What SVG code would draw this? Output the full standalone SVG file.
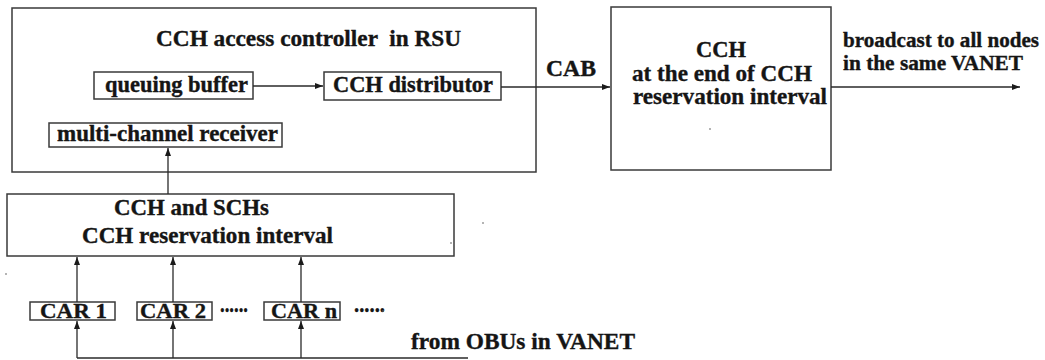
<svg xmlns="http://www.w3.org/2000/svg" width="1045" height="360" viewBox="0 0 1045 360">
  <style>
    .box { fill: none; stroke: #3a3a3a; stroke-width: 1.5; }
    .wire { fill: none; stroke: #2a2a2a; stroke-width: 1.3; }
    .lbl { font-family: "Liberation Serif", "Times New Roman", serif; font-weight: bold; font-size: 22.5px; fill: #151515; stroke: #151515; stroke-width: 0.35; white-space: pre; }
    .car { font-size: 22px; }
    .note { font-size: 20px; }
    .speck { fill: #555; }
  </style>
  <defs>
    <marker id="arrow" viewBox="0 0 8 6" refX="8" refY="3" markerWidth="8" markerHeight="6" markerUnits="userSpaceOnUse" orient="auto">
      <path d="M0,0 L8,3 L0,6 Z" fill="#1a1a1a"/>
    </marker>
  </defs>

  <rect width="1045" height="360" fill="#ffffff"/>

  <!-- RSU access controller with its inner blocks -->
  <g id="rsu-controller">
    <rect class="box" x="12" y="8" width="524" height="164"/>
    <text class="lbl" x="156" y="46" textLength="305" lengthAdjust="spacingAndGlyphs">CCH access controller  in RSU</text>
  </g>
  <g id="queuing-buffer">
    <rect class="box" x="94" y="72" width="159" height="27"/>
    <text class="lbl" x="105" y="92" textLength="143" lengthAdjust="spacingAndGlyphs">queuing buffer</text>
  </g>
  <g id="cch-distributor">
    <rect class="box" x="324" y="72" width="177" height="28"/>
    <text class="lbl" x="333" y="92" textLength="160" lengthAdjust="spacingAndGlyphs">CCH distributor</text>
  </g>
  <g id="multichannel-receiver">
    <rect class="box" x="49" y="123" width="233" height="24"/>
    <text class="lbl" x="57" y="141" textLength="221" lengthAdjust="spacingAndGlyphs">multi-channel receiver</text>
  </g>

  <!-- CCH broadcast block -->
  <g id="cch-block">
    <rect class="box" x="611" y="7" width="220" height="163"/>
    <text class="lbl" x="721" y="57" text-anchor="middle">CCH</text>
    <text class="lbl" x="632" y="81" textLength="180" lengthAdjust="spacingAndGlyphs">at the end of CCH</text>
    <text class="lbl" x="633" y="104" textLength="194" lengthAdjust="spacingAndGlyphs">reservation interval</text>
    <circle class="speck" cx="710" cy="129" r="0.8"/>
  </g>

  <!-- channel reservation block -->
  <g id="cch-sch-block">
    <rect class="box" x="7" y="194" width="447" height="62"/>
    <text class="lbl" x="114" y="215" textLength="155" lengthAdjust="spacingAndGlyphs">CCH and SCHs</text>
    <text class="lbl" x="82" y="243" textLength="251" lengthAdjust="spacingAndGlyphs">CCH reservation interval</text>
    <circle class="speck" cx="451" cy="243" r="0.8"/>
  </g>

  <!-- vehicles -->
  <g id="car-1">
    <rect class="box" x="30" y="302" width="85" height="18"/>
    <text class="lbl car" x="40" y="318" textLength="67" lengthAdjust="spacingAndGlyphs">CAR 1</text>
  </g>
  <g id="car-2">
    <rect class="box" x="137" y="302" width="75" height="18"/>
    <text class="lbl car" x="140" y="318" textLength="66" lengthAdjust="spacingAndGlyphs">CAR 2</text>
  </g>
  <g id="car-n">
    <rect class="box" x="264" y="302" width="76" height="18"/>
    <text class="lbl car" x="271" y="318" textLength="66" lengthAdjust="spacingAndGlyphs">CAR n</text>
  </g>
  <g id="ellipses">
    <text class="lbl" x="220" y="312" textLength="28" lengthAdjust="spacingAndGlyphs">......</text>
    <text class="lbl" x="354" y="312" textLength="31" lengthAdjust="spacingAndGlyphs">......</text>
  </g>

  <!-- free labels -->
  <g id="labels">
    <text class="lbl" x="546" y="76" textLength="50" lengthAdjust="spacingAndGlyphs">CAB</text>
    <text class="lbl note" x="843" y="46.5" textLength="196" lengthAdjust="spacingAndGlyphs">broadcast to all nodes</text>
    <text class="lbl note" x="843" y="69.5" textLength="180" lengthAdjust="spacingAndGlyphs">in the same VANET</text>
    <text class="lbl" x="411" y="349" textLength="224" lengthAdjust="spacingAndGlyphs">from OBUs in VANET</text>
  </g>

  <!-- connectors -->
  <g id="connectors">
    <line class="wire" x1="253" y1="86" x2="323" y2="86" marker-end="url(#arrow)"/>
    <line class="wire" x1="501" y1="87" x2="610" y2="87" marker-end="url(#arrow)"/>
    <line class="wire" x1="831" y1="87" x2="1020" y2="87" marker-end="url(#arrow)"/>
    <line class="wire" x1="168" y1="194" x2="168" y2="148" marker-end="url(#arrow)"/>
    <line class="wire" x1="77" y1="302" x2="77" y2="257" marker-end="url(#arrow)"/>
    <line class="wire" x1="173" y1="302" x2="173" y2="257" marker-end="url(#arrow)"/>
    <line class="wire" x1="301" y1="302" x2="301" y2="257" marker-end="url(#arrow)"/>
    <line class="wire" x1="77" y1="358" x2="468" y2="358"/>
    <line class="wire" x1="77" y1="358" x2="77" y2="321" marker-end="url(#arrow)"/>
    <line class="wire" x1="173" y1="358" x2="173" y2="321" marker-end="url(#arrow)"/>
    <line class="wire" x1="301" y1="358" x2="301" y2="321" marker-end="url(#arrow)"/>
  </g>

  <!-- stray print specks -->
  <g id="specks">
    <circle class="speck" cx="483" cy="223" r="0.8"/>
    <circle class="speck" cx="6" cy="274" r="0.8"/>
    <circle class="speck" cx="383" cy="311" r="0.9"/>
  </g>
</svg>
